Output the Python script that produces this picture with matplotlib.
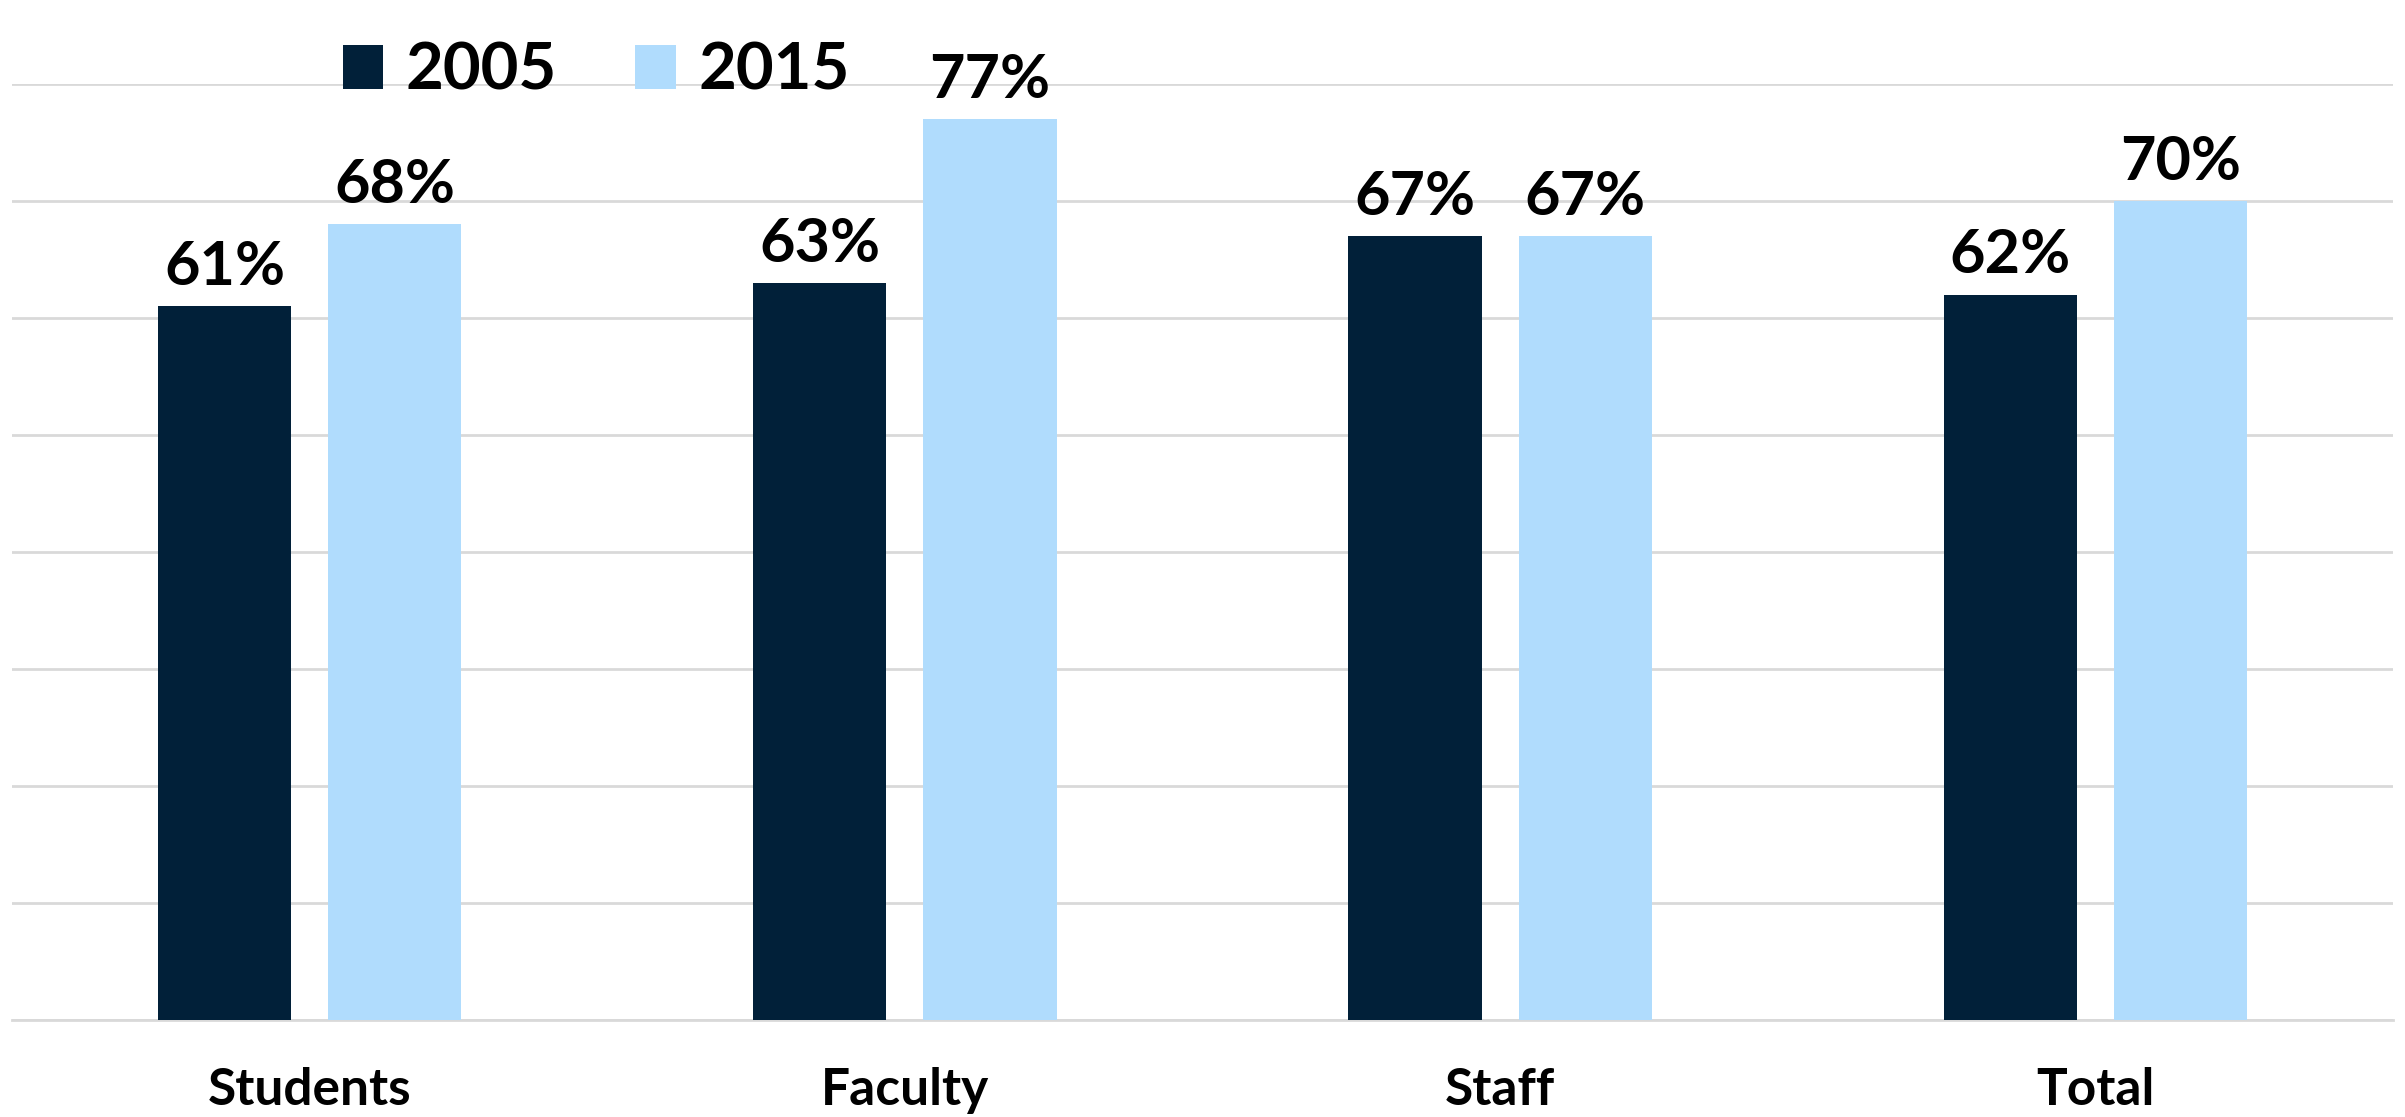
import matplotlib.pyplot as plt
import numpy as np

# Данные
categories = ['Students', 'Faculty', 'Staff', 'Total']
years = ['2005', '2015']
values_2005 = [61, 63, 67, 62]
values_2015 = [68, 77, 67, 70]

colors = ['#012039', '#b0dcfd']

plt.rcParams['font.family'] = ['Lato', 'DejaVu Sans']

fig = plt.figure(figsize=(24.05, 11.17), dpi=100)
ax = fig.add_axes([0.005, 0.0868, 0.99, 0.838])

x = np.arange(len(categories))
width = 0.224
offset = 0.143

bars1 = ax.bar(x - offset, values_2005, width, color=colors[0], label=years[0], zorder=3)
bars2 = ax.bar(x + offset, values_2015, width, color=colors[1], label=years[1], zorder=3)

# Подписи значений над столбцами
for bars in (bars1, bars2):
    for b in bars:
        ax.annotate(f'{int(b.get_height())}%',
                    (b.get_x() + b.get_width() / 2, b.get_height()),
                    xytext=(0, 8), textcoords='offset points',
                    ha='center', va='bottom', fontsize=44, fontweight='bold')

ax.set_xlim(-0.5, 3.5)
ax.set_ylim(0, 80)
ax.set_yticks(np.arange(0, 81, 10))
ax.yaxis.grid(True, color='#d9d9d9', linewidth=2, zorder=0)
ax.tick_params(axis='y', left=False, labelleft=False)
ax.tick_params(axis='x', bottom=False, pad=30)
ax.set_xticks(x)
ax.set_xticklabels(categories, fontsize=37, fontweight='bold')
for s in ['top', 'right', 'left']:
    ax.spines[s].set_visible(False)
ax.spines['bottom'].set_color('#d9d9d9')
ax.spines['bottom'].set_linewidth(2)

fig.legend(handles=[bars1, bars2], labels=years, loc='upper left',
           bbox_to_anchor=(0.118, 1.015), ncol=2, frameon=False,
           prop={'size': 47, 'weight': 'bold'},
           handlelength=0.62, handleheight=0.65, handletextpad=0.35,
           columnspacing=1.2)

plt.savefig('out.png', dpi=100, facecolor='white')
